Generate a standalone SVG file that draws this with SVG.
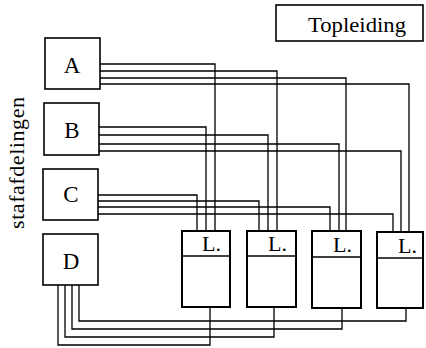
<svg xmlns="http://www.w3.org/2000/svg" width="426" height="348" viewBox="0 0 426 348">
<style>
.box{fill:#fff;stroke:#000;stroke-width:1.6}
.lbox{fill:#fff;stroke:#000;stroke-width:2}
.t{font-family:"Liberation Serif","Times New Roman",serif;fill:#000}
.c{fill:none;stroke:#000;stroke-width:1.3}
</style>
<rect width="426" height="348" fill="#fff"/>
<g id="connectors">
<path class="c" d="M100 64 H215 V231 M100 71 H277 V231 M100 78 H346 V231 M100 84 H409 V232"/>
<path class="c" d="M99 127 H206 V231 M99 135 H268 V231 M99 144 H339 V231 M99 151 H401 V232"/>
<path class="c" d="M98 195 H197 V231 M98 201 H259 V231 M98 207 H330 V231 M98 214 H393 V232"/>
<path class="c" d="M58 285 V345 H210 V307 M65 285 V337 H274 V307 M72 285 V329 H342 V308 M79 285 V321 H406 V308"/>
</g>
<g id="topleiding">
<rect class="box" x="276" y="5" width="147" height="36"/>
<text class="t" x="357" y="32" font-size="22" text-anchor="middle" textLength="98" lengthAdjust="spacingAndGlyphs">Topleiding</text>
</g>
<g id="label">
<text class="t" transform="translate(24,163) rotate(-90)" font-size="22" text-anchor="middle" textLength="132" lengthAdjust="spacing">stafafdelingen</text>
</g>
<g id="A">
<rect class="box" x="45" y="38" width="55" height="51"/>
<text class="t" x="72" y="73" font-size="23" text-anchor="middle">A</text>
</g>
<g id="B">
<rect class="box" x="44" y="103" width="55" height="52"/>
<text class="t" x="72" y="138" font-size="23" text-anchor="middle">B</text>
</g>
<g id="C">
<rect class="box" x="43" y="169" width="55" height="51"/>
<text class="t" x="71" y="202" font-size="23" text-anchor="middle">C</text>
</g>
<g id="D">
<rect class="box" x="43" y="234" width="55" height="51"/>
<text class="t" x="71" y="269" font-size="23" text-anchor="middle">D</text>
</g>
<g id="L1">
<rect class="lbox" x="182" y="231" width="48" height="76"/>
<line x1="182" y1="256" x2="230" y2="256" stroke="#000" stroke-width="1.6"/>
<text class="t" x="202" y="251" font-size="22">L.</text>
</g>
<g id="L2">
<rect class="lbox" x="247" y="231" width="49" height="76"/>
<line x1="247" y1="256" x2="296" y2="256" stroke="#000" stroke-width="1.6"/>
<text class="t" x="268" y="251" font-size="22">L.</text>
</g>
<g id="L3">
<rect class="lbox" x="312" y="231" width="49" height="77"/>
<line x1="312" y1="257" x2="361" y2="257" stroke="#000" stroke-width="1.6"/>
<text class="t" x="333" y="252" font-size="22">L.</text>
</g>
<g id="L4">
<rect class="lbox" x="377" y="232" width="46" height="76"/>
<line x1="377" y1="258" x2="423" y2="258" stroke="#000" stroke-width="1.6"/>
<text class="t" x="398" y="253" font-size="22">L.</text>
</g>
</svg>
